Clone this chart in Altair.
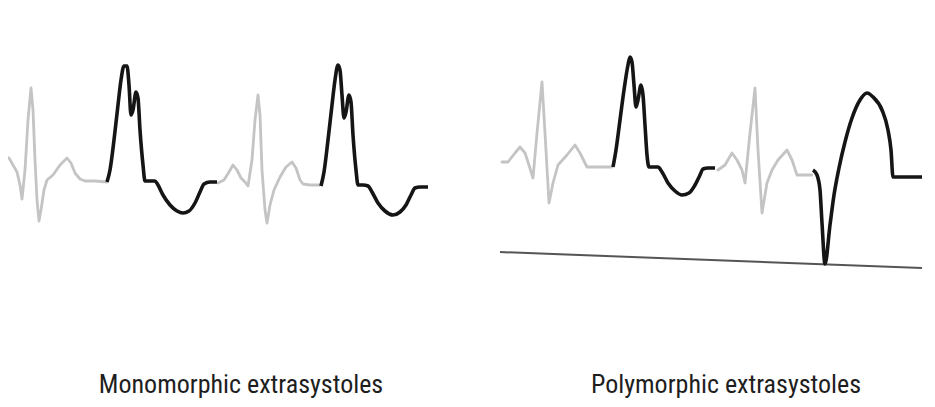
import altair as alt
import pandas as pd

# ---- trace data (time units across, amplitude units up) ----
# Left panel: sinus beats (gray) and identical ectopic beats (black)
sinus1_t = [1, 5, 9, 13, 17, 20, 22, 25, 28, 31, 33, 35, 37, 39, 41, 44, 47, 53, 60, 67, 71, 75, 80, 85, 95, 107]
sinus1_y = [160, 157, 158, 165, 172, 185, 199, 170, 120, 88, 110, 160, 200, 221, 210, 190, 180, 175, 165, 158, 163, 173, 179, 181, 181, 182]

pvc1_t = [107, 110, 114, 118, 121, 124, 127, 129, 131, 133, 136, 138, 140, 143, 145, 150, 155, 158, 163, 170, 177, 183, 189, 195, 200, 204, 210, 217]
pvc1_y = [182, 170, 140, 105, 80, 66, 66, 85, 115, 110, 92, 98, 130, 165, 181, 181, 181, 185, 195, 205, 211, 213, 211, 203, 192, 184, 182, 182]

sinus2_t = [218, 224, 229, 233, 237, 241, 245, 248, 252, 255, 258, 260, 262, 265, 267, 270, 274, 280, 286, 292, 296, 300, 303, 310, 320]
sinus2_y = [183, 180, 172, 165, 170, 178, 182, 186, 160, 120, 95, 115, 170, 210, 223, 205, 190, 177, 167, 162, 168, 180, 184, 185, 185]

pvc2_t = [321, 324, 328, 332, 335, 338, 340, 342, 344, 346, 349, 351, 353, 356, 358, 363, 368, 372, 378, 385, 393, 400, 406, 411, 415, 420, 428]
pvc2_y = [186, 172, 140, 105, 80, 65, 70, 95, 118, 112, 95, 102, 135, 170, 185, 185, 186, 192, 203, 211, 215, 212, 205, 195, 188, 187, 187]

# Right panel: sinus beats (gray) and two differently shaped ectopic beats (black)
sinus3_t = [502, 508, 515, 520, 525, 528, 533, 537, 542, 545, 549, 553, 558, 567, 575, 580, 587, 595, 612]
sinus3_y = [162, 162, 153, 147, 153, 162, 178, 133, 82, 133, 203, 183, 165, 155, 145, 153, 167, 167, 167]

pvc3_t = [613, 616, 620, 624, 628, 630, 632, 634, 636, 638, 641, 643, 645, 647, 649, 654, 658, 662, 668, 675, 682, 689, 695, 700, 703, 708, 715]
pvc3_y = [167, 150, 120, 90, 65, 57, 62, 85, 107, 100, 85, 95, 125, 155, 167, 167, 167, 172, 183, 191, 195, 193, 185, 175, 169, 168, 168]

sinus4_t = [718, 725, 732, 737, 742, 745, 750, 755, 758, 762, 767, 772, 778, 787, 792, 797, 812]
sinus4_y = [170, 165, 153, 160, 170, 183, 133, 88, 150, 213, 183, 170, 160, 150, 160, 175, 175]

pvc4_t = [813, 817, 820, 822, 825, 830, 834, 839, 845, 852, 860, 867, 873, 882, 888, 891, 893, 902, 922]
pvc4_y = [170, 175, 190, 223, 264, 225, 195, 168, 142, 118, 100, 93, 97, 110, 130, 150, 177, 177, 177]

# isoelectric reference line under the right panel
ref_t = [500, 922]
ref_y = [252, 268]

labels = ["Monomorphic extrasystoles", "Polymorphic extrasystoles"]
label_t = [241, 726]
label_y = [393, 393]

IMG_H = 407  # convert downward picture rows into upward amplitude


def trace(name, kind, ts, ys):
    return pd.DataFrame({"t": ts, "amp": [IMG_H - v for v in ys], "trace": name, "kind": kind})


df = pd.concat([
    trace("s1", "sinus", sinus1_t, sinus1_y),
    trace("p1", "ectopic", pvc1_t, pvc1_y),
    trace("s2", "sinus", sinus2_t, sinus2_y),
    trace("p2", "ectopic", pvc2_t, pvc2_y),
    trace("s3", "sinus", sinus3_t, sinus3_y),
    trace("p3", "ectopic", pvc3_t, pvc3_y),
    trace("s4", "sinus", sinus4_t, sinus4_y),
    trace("p4", "ectopic", pvc4_t, pvc4_y),
], ignore_index=True)

ref_df = trace("ref", "ref", ref_t, ref_y)
lab_df = pd.DataFrame({"t": label_t, "amp": [IMG_H - v for v in label_y], "text": labels})

xs = alt.Scale(domain=[8, 927])
ys = alt.Scale(domain=[8, 399])
X = alt.X("t:Q", scale=xs, axis=None)
Y = alt.Y("amp:Q", scale=ys, axis=None)

sinus = alt.Chart(df).transform_filter(alt.datum.kind == "sinus").mark_line(
    color="#c4c4c4", strokeWidth=2.8, interpolate="linear", strokeJoin="round", strokeCap="round"
).encode(x=X, y=Y, detail="trace:N")

ectopic = alt.Chart(df).transform_filter(alt.datum.kind == "ectopic").mark_line(
    color="#151515", strokeWidth=3.6, interpolate="monotone", strokeJoin="round", strokeCap="butt"
).encode(x=X, y=Y, detail="trace:N")

ref = alt.Chart(ref_df).mark_line(color="#555555", strokeWidth=2).encode(x=X, y=Y)

text = alt.Chart(lab_df).mark_text(
    font="Roboto Condensed", fontSize=26, color="#1e1e1e", align="center", baseline="alphabetic"
).encode(x=X, y=Y, text="text:N")

chart = alt.layer(ref, sinus, ectopic, text).properties(
    width=919, height=391, padding=0, background="white",
    autosize=alt.AutoSizeParams(type="none")
).configure_view(stroke=None, strokeWidth=0)

chart.save("out.html", embed_options={"renderer": "svg", "actions": False})
